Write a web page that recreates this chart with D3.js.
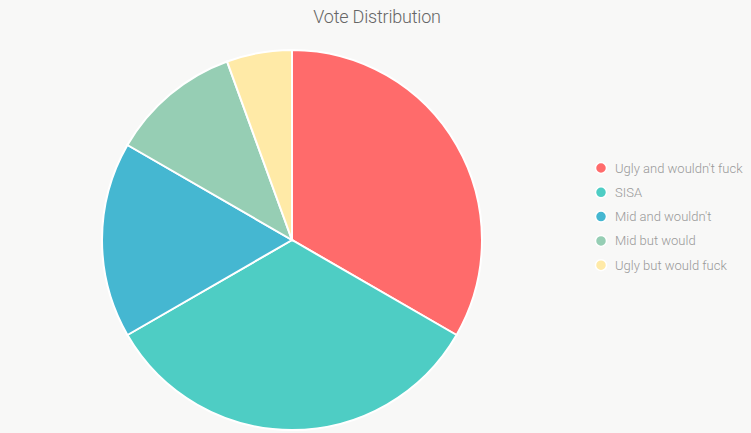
<!DOCTYPE html>
<html><head><meta charset="utf-8">
<script src="https://cdn.jsdelivr.net/npm/d3@7"></script>
<style>
html,body{margin:0;padding:0;background:#f8f8f7;}
svg{display:block;font-family:Roboto,Lato,"Open Sans",sans-serif;}
</style></head>
<body>
<svg id="c" width="751" height="433"></svg>
<script>
const categories = ["Ugly and wouldn't fuck","SISA","Mid and wouldn't","Mid but would","Ugly but would fuck"];
const values = [6, 6, 3, 2, 1];
const colors = ["#ff6b6b","#4ecdc4","#45b7d1","#96ceb4","#ffeaa7"];
const title = "Vote Distribution";

const svg = d3.select("#c");
const W = 751, H = 433;
svg.append("rect").attr("width",W).attr("height",H).attr("fill","#f8f8f7");

svg.append("text").attr("x",377).attr("y",23).attr("text-anchor","middle")
  .attr("font-size",18).attr("font-weight",300).attr("letter-spacing",-0.2).attr("fill","#666").text(title);

const cx = 292, cy = 240, R = 190;
const color = d3.scaleOrdinal().domain(categories).range(colors);
const pie = d3.pie().sort(null).value(d=>d.v);
const arc = d3.arc().innerRadius(0).outerRadius(R);
const data = categories.map((c,i)=>({c, v: values[i]}));
const g = svg.append("g").attr("transform",`translate(${cx},${cy})`);
g.selectAll("path").data(pie(data)).join("path")
  .attr("d",arc).attr("fill",d=>color(d.data.c))
  .attr("stroke","#fff").attr("stroke-width",2);

const lg = svg.append("g");
const item = lg.selectAll("g").data(categories).join("g")
  .attr("transform",(d,i)=>`translate(601,${168+i*24.3})`);
item.append("circle").attr("r",5.5).attr("fill",d=>color(d)).attr("stroke","#fff").attr("stroke-width",1.5);
item.append("text").attr("x",14).attr("y",4.5).attr("font-size",13).attr("font-weight",300)
  .attr("fill","#999").text(d=>d);
</script>
</body></html>
